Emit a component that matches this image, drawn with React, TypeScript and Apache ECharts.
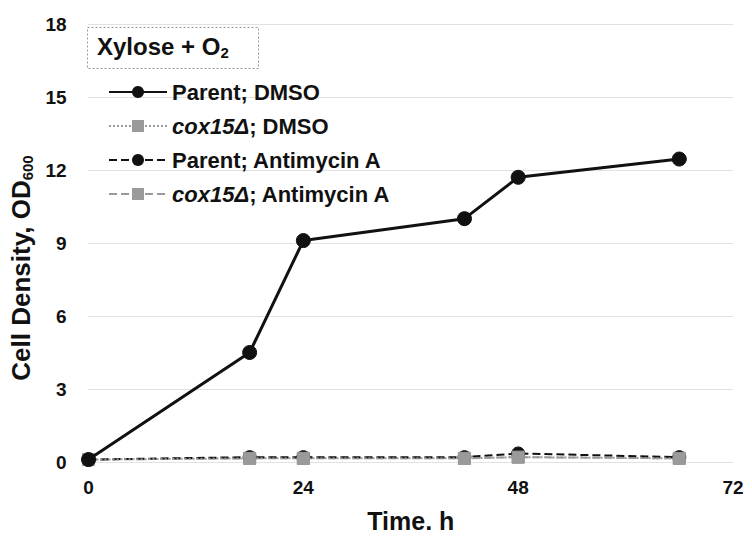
import React, { useEffect, useRef } from "react";
import * as echarts from "echarts";

// Sampling times (h) and cell density readings (OD600)
const times = [0, 18, 24, 42, 48, 66];
const parentDmso = [0.1, 4.5, 9.1, 10.0, 11.7, 12.45];
const coxDmso = [0.1, 0.15, 0.15, 0.15, 0.2, 0.15];
const parentAntimycin = [0.1, 0.2, 0.2, 0.2, 0.35, 0.2];
const coxAntimycin = [0.1, 0.15, 0.15, 0.15, 0.2, 0.15];

const seriesNames = [
  "Parent; DMSO",
  "cox15Δ; DMSO",
  "Parent; Antimycin A",
  "cox15Δ; Antimycin A",
];

const FONT = "'Liberation Sans', Arial, sans-serif";

const pairs = (ys: number[]) => times.map((t, i) => [t, ys[i]]);

export default function App() {
  const ref = useRef<HTMLDivElement>(null);

  useEffect(() => {
    if (!ref.current) return;
    const chart = echarts.init(ref.current, undefined, { renderer: "svg" });

    const mk = (
      name: string,
      data: number[],
      color: string,
      symbol: string,
      lineType: "solid" | "dashed" | "dotted",
      size: number,
      z: number
    ) => ({
      name,
      type: "line",
      data: pairs(data),
      symbol,
      symbolSize: size,
      z,
      lineStyle: {
        color: lineType === "solid" ? "#111" : color,
        width: lineType === "solid" ? 3 : 2,
        type: lineType,
      },
      itemStyle: { color, borderColor: color },
    });

    chart.setOption({
      animation: false,
      backgroundColor: "#fff",
      grid: { left: 82.5, right: 19, top: 24, bottom: 75 },
      xAxis: {
        type: "value",
        min: 0,
        max: 72,
        interval: 24,
        name: "Time, h",
        nameLocation: "middle",
        nameGap: 46,
        nameTextStyle: { fontFamily: FONT, fontWeight: "bold", fontSize: 25, color: "#111" },
        axisLine: { show: false },
        axisTick: { show: false },
        splitLine: { show: false },
        axisLabel: { fontFamily: FONT, fontWeight: "bold", fontSize: 19, color: "#111", margin: 16 },
      },
      yAxis: {
        type: "value",
        min: 0,
        max: 18,
        interval: 3,
        name: "{a|Cell Density, OD}{s|600}",
        nameLocation: "middle",
        nameGap: 37,
        nameRotate: 90,
        nameTextStyle: {
          padding: [0, 50, 0, 0],
          rich: {
            a: { fontFamily: FONT, fontWeight: "bold", fontSize: 26, color: "#111" },
            s: {
              fontFamily: FONT,
              fontWeight: "bold",
              fontSize: 15,
              color: "#111",
              verticalAlign: "bottom",
              padding: [12, 0, 0, 0],
            },
          },
        },
        axisLine: { show: false },
        axisTick: { show: false },
        splitLine: { show: true, lineStyle: { color: "#c4c4c4", type: "dotted", width: 1 } },
        axisLabel: { fontFamily: FONT, fontWeight: "bold", fontSize: 19, color: "#111", margin: 22 },
      },
      legend: {
        orient: "vertical",
        left: 103,
        top: 76,
        itemWidth: 58,
        itemHeight: 15,
        itemGap: 12,
        data: seriesNames,
        formatter: (n: string) =>
          n.startsWith("cox15Δ") ? `{i|cox15Δ}{t|${n.slice(6)}}` : `{t|${n}}`,
        textStyle: {
          fontFamily: FONT,
          fontWeight: "bold",
          fontSize: 22,
          color: "#111",
          rich: {
            t: { fontFamily: FONT, fontWeight: "bold", fontSize: 22, color: "#111" },
            i: { fontFamily: FONT, fontWeight: "bold", fontStyle: "italic", fontSize: 22, color: "#111" },
          },
        },
      },
      graphic: [
        {
          type: "rect",
          left: 87,
          top: 27,
          shape: { width: 171, height: 41 },
          style: { fill: "#fff", stroke: "#999", lineWidth: 1, lineDash: [2, 2] },
        },
        {
          type: "text",
          left: 97,
          top: 34,
          style: {
            text: "{a|Xylose + O}{s|2}",
            rich: {
              a: { fontFamily: FONT, fontWeight: "bold", fontSize: 24, fill: "#111" },
              s: { fontFamily: FONT, fontWeight: "bold", fontSize: 15, fill: "#111", padding: [12, 0, 0, 0] },
            },
          },
        },
        {
          type: "text",
          right: 2,
          bottom: 2,
          style: { text: "7", font: `italic 12px ${FONT}`, fill: "#333" },
        },
      ],
      series: [
        mk(seriesNames[3], coxAntimycin, "#9a9a9a", "rect", "dashed", 12, 2),
        mk(seriesNames[2], parentAntimycin, "#111", "circle", "dashed", 13, 3),
        mk(seriesNames[1], coxDmso, "#9a9a9a", "rect", "dotted", 12, 4),
        mk(seriesNames[0], parentDmso, "#111", "circle", "solid", 14, 5),
      ],
    });

    return () => chart.dispose();
  }, []);

  return <div ref={ref} style={{ width: 752, height: 538, margin: -8 }} />;
}
